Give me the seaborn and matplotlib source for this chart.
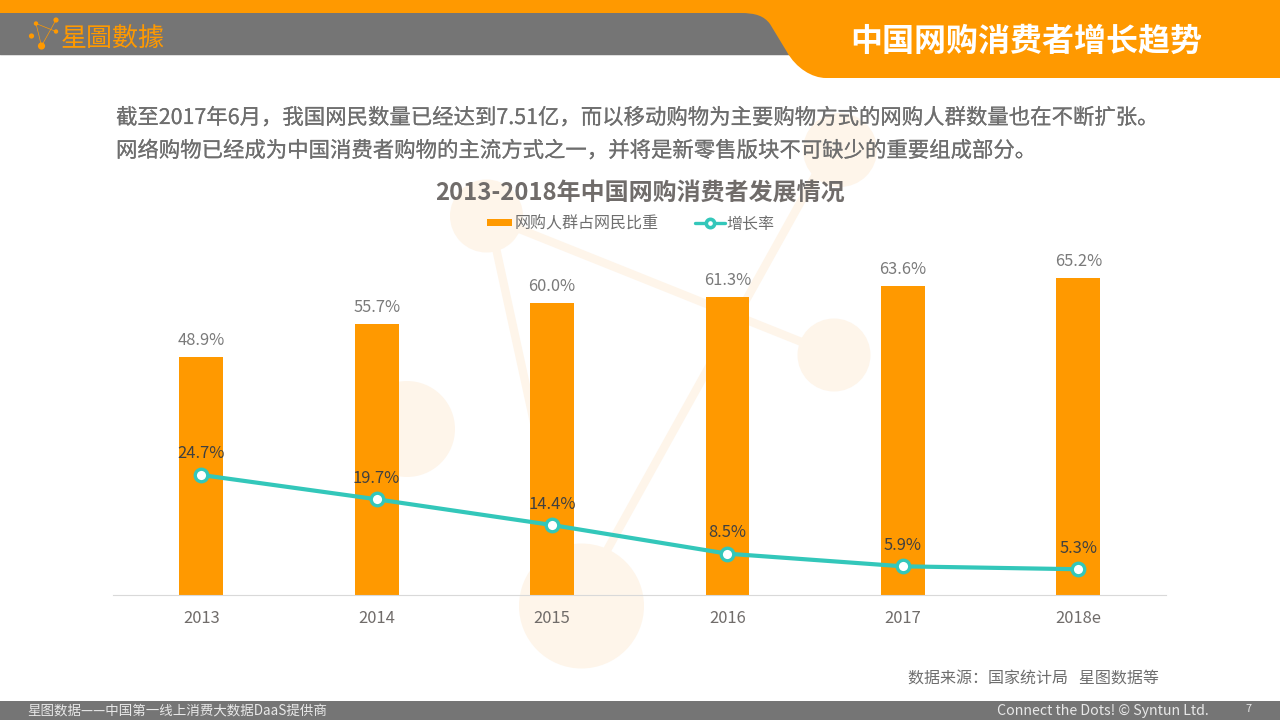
import matplotlib
matplotlib.use('Agg')
import matplotlib.pyplot as plt
import matplotlib.patheffects as pe
from matplotlib.patches import Circle, PathPatch, Rectangle
from matplotlib.path import Path
from matplotlib.lines import Line2D
import pandas as pd
import seaborn as sns

years = ['2013', '2014', '2015', '2016', '2017', '2018e']
share = [48.9, 55.7, 60.0, 61.3, 63.6, 65.2]
growth = [24.7, 19.7, 14.4, 8.5, 5.9, 5.3]
share_name = '网购人群占网民比重'
growth_name = '增长率'
title = '2013-2018年中国网购消费者发展情况'
header = '中国网购消费者增长趋势'
intro = ['截至2017年6月，我国网民数量已经达到7.51亿，而以移动购物为主要购物方式的网购人群数量也在不断扩张。',
         '网络购物已经成为中国消费者购物的主流方式之一，并将是新零售版块不可缺少的重要组成部分。']
source = '数据来源：国家统计局   星图数据等'
footer_left = '星图数据——中国第一线上消费大数据DaaS提供商'
footer_right = 'Connect the Dots! © Syntun Ltd.'

ORANGE = '#FF9900'
TEAL = '#33C7BA'
GRAY = '#757575'
DECOR = '#FEF5EA'
TEXT = '#6E6E6E'
W, H = 1280, 720

sns.set_theme(style='white')
plt.rcParams['font.family'] = ['Noto Sans CJK SC', 'DejaVu Sans']
def pt(px):
    return px * 0.72

fig = plt.figure(figsize=(12.8, 7.2), dpi=100, facecolor='white')
bg = fig.add_axes([0, 0, 1, 1], zorder=0)
bg.set_xlim(0, W); bg.set_ylim(H, 0); bg.axis('off')

# faint background motif
for a, b in [((487, 216), (834, 355)), ((489, 216), (574, 606)), ((829.5, 150), (576, 606))]:
    bg.add_line(Line2D([a[0], b[0]], [a[1], b[1]], color=DECOR, lw=6, solid_capstyle='butt', zorder=0.5))
for c, r in [((486.5, 216), 36.5), ((840, 150), 37), ((834, 355), 36.5), ((407, 429), 48), ((581.5, 606), 62.5)]:
    bg.add_patch(Circle(c, r, color=DECOR, lw=0, zorder=0.5))

# header
bg.add_patch(Rectangle((0, 0), W, 13, color=ORANGE, lw=0))
bg.add_patch(Rectangle((0, 13), 790, 42, color=GRAY, lw=0))
bg.add_line(Line2D([0, 790], [55.2, 55.2], color='#D9D9D9', lw=0.6))
tail = Path([(740, 0), (740, 13), (756, 13), (764, 16), (770, 24), (787, 52), (796, 68), (812, 78), (826, 78),
             (1280, 78), (1280, 0), (740, 0)],
            [1, 2, 4, 4, 4, 2, 4, 4, 4, 2, 2, 79])
bg.add_patch(PathPatch(tail, fc=ORANGE, ec='none', zorder=2.5))
bg.text(1026, 41.5, header, color='white', fontsize=pt(32), fontweight='bold', ha='center', va='center')

# logo
nodes = [((36, 23.5), 2.2), ((56, 20), 2.6), ((56, 31.5), 2.2), ((31.5, 36), 2.6), ((41.5, 46), 3.6)]
for i, j in [(0, 2), (0, 4), (1, 4)]:
    bg.add_line(Line2D([nodes[i][0][0], nodes[j][0][0]], [nodes[i][0][1], nodes[j][0][1]], color=ORANGE, lw=0.5))
for c, r in nodes:
    bg.add_patch(Circle(c, r, color=ORANGE, lw=0, zorder=2))
bg.text(61, 39.5, '星圖數據', color=ORANGE, fontsize=pt(26), fontweight='light', ha='left', va='center',
        family=['Noto Sans CJK TC', 'DejaVu Sans'])

# intro text
stroke = [pe.withStroke(linewidth=0.12, foreground=TEXT)]
bg.text(116, 118, intro[0], color=TEXT, fontsize=pt(21.4), ha='left', va='center', path_effects=stroke)
bg.text(116, 151, intro[1], color=TEXT, fontsize=pt(21.4), ha='left', va='center', path_effects=stroke)
bg.text(640, 193, title, color='#706C6A', fontsize=pt(24), fontweight='bold', ha='center', va='center')

# source and footer
bg.text(1159, 679, source, color=TEXT, fontsize=pt(16), ha='right', va='center')
bg.add_patch(Rectangle((0, 701), W, 19, color=GRAY, lw=0))
bg.text(27, 711, footer_left, color='#E8E8E8', fontsize=pt(13.5), ha='left', va='center', fontweight='light')
bg.text(1209, 711, footer_right, color='#E8E8E8', fontsize=pt(14.2), ha='right', va='center', fontweight='light')
bg.text(1249, 708.5, '7', color='#E8E8E8', fontsize=pt(11), ha='center', va='center', fontweight='light')

# chart
y_top = 70
ax_left, ax_right, ax_bottom = 113.5, 1166, 595
ax_top = ax_bottom - y_top * 4.86
ax = fig.add_axes([ax_left / W, 1 - ax_bottom / H, (ax_right - ax_left) / W, (ax_bottom - ax_top) / H], zorder=2)
ax.patch.set_alpha(0)
df = pd.DataFrame({'year': years, 'share': share, 'growth': growth})
sns.barplot(data=df, x='year', y='share', color=ORANGE, saturation=1, width=0.25, ax=ax, zorder=2,
            edgecolor='none', linewidth=0)
sns.lineplot(data=df, x='year', y='growth', color=TEAL, lw=3, marker='o', markersize=9,
             markerfacecolor='white', markeredgecolor=TEAL, markeredgewidth=2.4, ax=ax, zorder=3,
             errorbar=None, sort=False)
ax.set_xlim(-0.5, 5.5); ax.set_ylim(0, y_top)
ax.set_xlabel(''); ax.set_ylabel(''); ax.set_yticks([])
sns.despine(ax=ax, left=True)
ax.spines['bottom'].set_color('#D9D9D9'); ax.spines['bottom'].set_linewidth(0.8)
ax.tick_params(axis='x', length=0, pad=10.5, labelsize=pt(16.5), labelcolor='#706C6A')
for i, (s, g) in enumerate(zip(share, growth)):
    ax.annotate(f'{s:.1f}%', (i, s), xytext=(0, 6), textcoords='offset points', ha='center', va='bottom',
                fontsize=pt(16.5), color='#7A7A7A', zorder=4)
    ax.annotate(f'{g:.1f}%', (i, g), xytext=(0, 9), textcoords='offset points', ha='center', va='bottom',
                fontsize=pt(16.5), color='#404040', zorder=5)

# legend
bg.add_patch(Rectangle((487, 219), 25, 7, color=ORANGE, lw=0, zorder=2))
bg.text(515, 224, share_name, color=TEXT, fontsize=pt(16), ha='left', va='center')
bg.add_line(Line2D([695, 710, 725], [222.5, 222.5, 222.5], color=TEAL, lw=2.4, marker='o', markersize=6,
                   markerfacecolor='white', markeredgecolor=TEAL, markeredgewidth=2.6, markevery=[1]))
bg.text(726, 224, growth_name, color=TEXT, fontsize=pt(16), ha='left', va='center')

fig.savefig('out.png', dpi=100)
